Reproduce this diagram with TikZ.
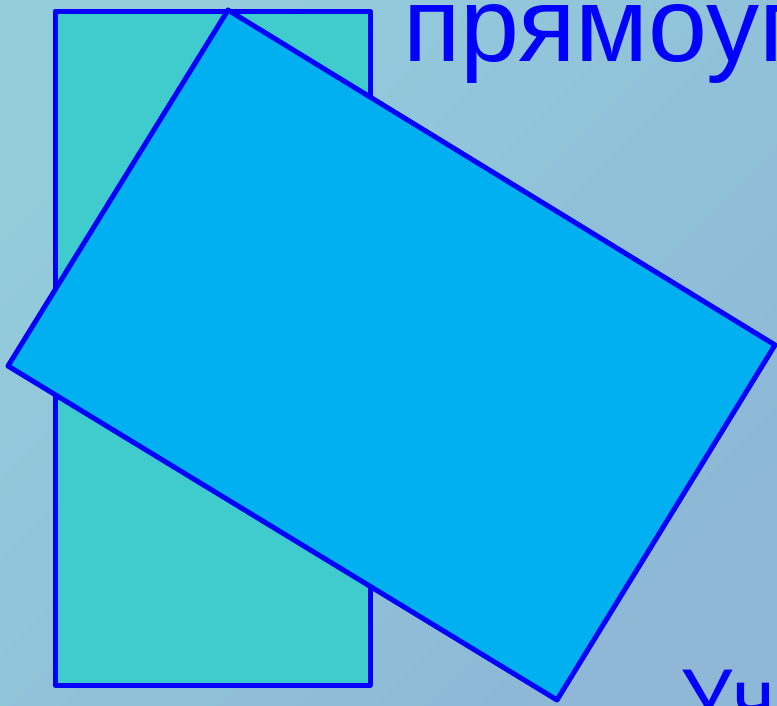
\documentclass[tikz,border=0pt]{standalone}
\usepackage{fontspec}
\setmainfont{Liberation Sans}
\definecolor{bgA}{RGB}{148,204,220}
\definecolor{bgB}{RGB}{142,184,214}
\definecolor{tealfill}{RGB}{64,203,204}
\definecolor{skyfill}{RGB}{0,176,240}
\definecolor{edgeblue}{RGB}{0,0,255}
\tikzset{
  shapeedge/.style={draw=edgeblue, line width=5pt, line join=round},
  bigtext/.style={text=edgeblue, inner sep=0pt, anchor=base west}
}
\begin{document}
\begin{tikzpicture}[x=1pt,y=-1pt]
\useasboundingbox (0,0) rectangle (777,705);
\begin{scope}
\clip (0,0) rectangle (777,705);
\shade[top color=bgA, bottom color=bgB, shading angle=45] (0,0) rectangle (777,705);
\coordinate (r1) at (55,11);
\coordinate (r2) at (370,685);
\draw[shapeedge, fill=tealfill] (r1) rectangle (r2);
\coordinate (p1) at (228,10);
\coordinate (p2) at (775,345);
\coordinate (p3) at (557,700);
\coordinate (p4) at (8,366);
\draw[shapeedge, fill=skyfill] (p1) -- (p2) -- (p3) -- (p4) -- cycle;
\node[bigtext, font=\fontsize{106}{106}\selectfont] (title) at (403,61) {прямоуг};
\node[bigtext, font=\fontsize{82}{82}\selectfont] (author) at (680,726) {Уч};
\end{scope}
\end{tikzpicture}
\end{document}
